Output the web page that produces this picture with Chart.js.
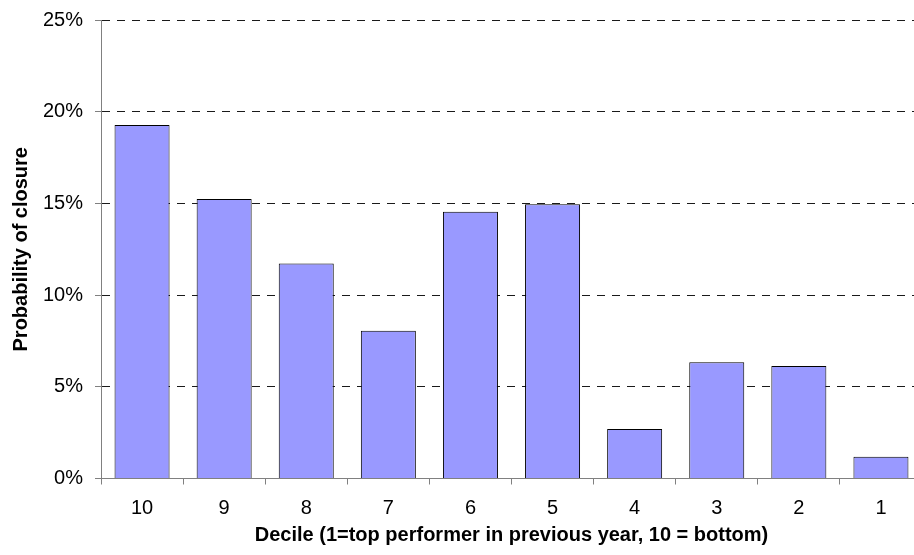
<!DOCTYPE html>
<html>
<head>
<meta charset="utf-8">
<script src="https://cdn.jsdelivr.net/npm/chart.js@4.4.0/dist/chart.umd.min.js"></script>
<style>
  html, body { margin: 0; padding: 0; background: #fff; overflow: hidden; width: 914px; height: 555px; }
  #wrap { width: 930px; height: 555px; }
</style>
</head>
<body>
<div id="wrap"><canvas id="c" width="930" height="555"></canvas></div>
<script>
const categories = ["10", "9", "8", "7", "6", "5", "4", "3", "2", "1"];
const closureProbability = [19.28, 15.24, 11.72, 8.05, 14.55, 14.95, 2.70, 6.34, 6.14, 1.19];
const yTickValues = [0, 5, 10, 15, 20, 25];
const yAxisTitle = "Probability of closure";
const xAxisTitle = "Decile (1=top performer in previous year, 10 = bottom)";

const FONT = "'Liberation Sans', Arial, sans-serif";

new Chart(document.getElementById('c'), {
  type: 'bar',
  data: {
    labels: categories,
    datasets: [{
      data: closureProbability,
      backgroundColor: '#9999FF',
      borderColor: '#000000',
      borderWidth: 1,
      categoryPercentage: 1.0,
      barPercentage: 0.67
    }]
  },
  options: {
    responsive: false,
    devicePixelRatio: 1,
    animation: false,
    layout: { padding: { top: 20, right: 8, left: 0, bottom: 0 } },
    plugins: { legend: { display: false }, tooltip: { enabled: false } },
    scales: {
      x: {
        offset: true,
        grid: {
          offset: true,
          drawOnChartArea: false,
          drawTicks: true,
          tickLength: 6,
          tickColor: '#808080'
        },
        border: { color: '#808080', width: 1 },
        ticks: { color: '#000', font: { family: FONT, size: 20 }, padding: 12, maxRotation: 0 },
        title: {
          display: true,
          text: xAxisTitle,
          color: '#000',
          font: { family: FONT, size: 20, weight: 'bold' },
          padding: { top: 0, bottom: 8 }
        },
        afterFit: (s) => { s.height = 76.5; s.paddingLeft = 0; s.paddingRight = 0; }
      },
      y: {
        min: 0,
        max: 25,
        afterBuildTicks: (s) => { s.ticks = yTickValues.map(v => ({ value: v })); },
        grid: {
          color: (ctx) => ctx.tick && ctx.tick.value === 0 ? 'rgba(0,0,0,0)' : '#1a1a1a',
          tickColor: '#808080',
          tickLength: 6,
          tickBorderDash: [],
          drawTicks: true
        },
        border: { color: '#808080', width: 1, dash: [8, 7] },
        ticks: {
          color: '#000',
          font: { family: FONT, size: 20 },
          padding: 12,
          callback: (v) => v + '%'
        },
        title: {
          display: true,
          text: yAxisTitle,
          color: '#000',
          font: { family: FONT, size: 20, weight: 'bold' },
          padding: { top: 9, bottom: 0 }
        },
        afterFit: (s) => { s.width = 101; s.paddingTop = 0; s.paddingBottom = 0; }
      }
    }
  }
});
</script>
</body>
</html>
